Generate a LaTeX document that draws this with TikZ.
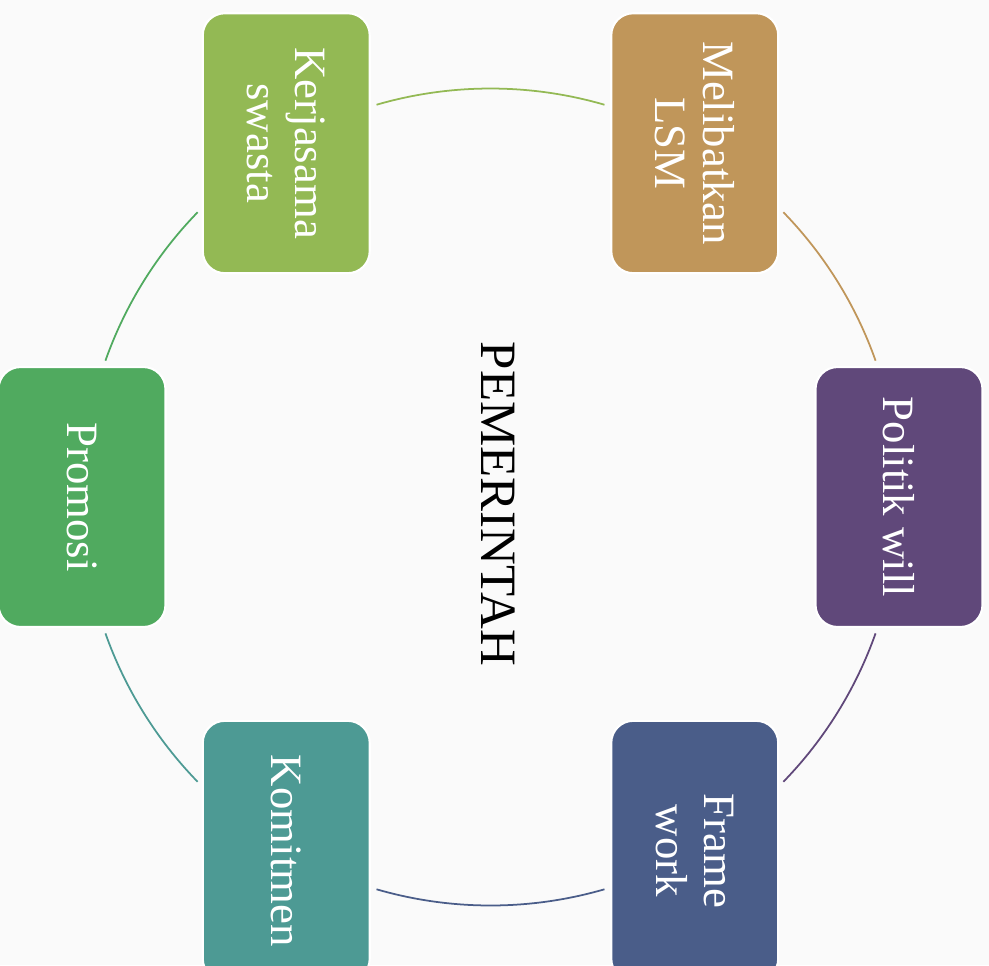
\documentclass[tikz,border=0pt]{standalone}
\usepackage{fontspec}
\setmainfont{Liberation Serif}
\usepackage{tikz}
\usetikzlibrary{positioning}
\definecolor{cycPaper}{HTML}{FAFAFA}
\definecolor{cycLime}{HTML}{93B954}
\definecolor{cycGold}{HTML}{C0965A}
\definecolor{cycPlum}{HTML}{60487A}
\definecolor{cycNavy}{HTML}{4A5D89}
\definecolor{cycTeal}{HTML}{4D9A94}
\definecolor{cycGreen}{HTML}{50AA5F}
\tikzset{
  item/.style={rectangle, rounded corners=0.44cm, draw=white, line width=1.2pt, text=white, align=center, rotate=-90, minimum width=5.2cm, minimum height=3.34cm, inner sep=2pt, font=\fontsize{25.5}{27.5}\selectfont},
  hub/.style={rotate=-90, inner sep=0pt, font=\fontsize{29}{32}\selectfont},
  link/.style={line width=1pt}
}

\begin{document}
\begin{tikzpicture}[x=0.02cm, y=0.02cm]
\fill[cycPaper] (-490.5,-468) rectangle (498.5,497);
\useasboundingbox (-490.5,-468) rectangle (498.5,497);
\clip (-490.5,-468) rectangle (498.5,497);
\coordinate (ctr) at (0,0);
\node[hub] (gov) at (7.5,-7) {PEMERINTAH};
\node[item, fill=cycLime] (swasta) at (120:408.5) {Kerjasama\\swasta};
\node[item, fill=cycGold] (lsm) at (60:408.5) {Melibatkan\\LSM};
\node[item, fill=cycPlum] (politik) at (0:408.5) {Politik will};
\node[item, fill=cycNavy] (frame) at (-60:408.5) {Frame\\work};
\node[item, fill=cycTeal] (komit) at (-120:408.5) {Komitmen};
\node[item, fill=cycGreen] (promosi) at (180:408.5) {Promosi};
% cycle arcs
\draw[link, cycLime] ([shift={(106.2:408.5)}]ctr) arc[start angle=106.2, end angle=73.8, radius=408.5];
\draw[link, cycGold] ([shift={(44.2:408.5)}]ctr) arc[start angle=44.2, end angle=19.5, radius=408.5];
\draw[link, cycPlum] ([shift={(-19.5:408.5)}]ctr) arc[start angle=-19.5, end angle=-44.2, radius=408.5];
\draw[link, cycNavy] ([shift={(-73.8:408.5)}]ctr) arc[start angle=-73.8, end angle=-106.2, radius=408.5];
\draw[link, cycTeal] ([shift={(-135.8:408.5)}]ctr) arc[start angle=-135.8, end angle=-160.5, radius=408.5];
\draw[link, cycGreen] ([shift={(160.5:408.5)}]ctr) arc[start angle=160.5, end angle=135.8, radius=408.5];
\end{tikzpicture}
\end{document}
